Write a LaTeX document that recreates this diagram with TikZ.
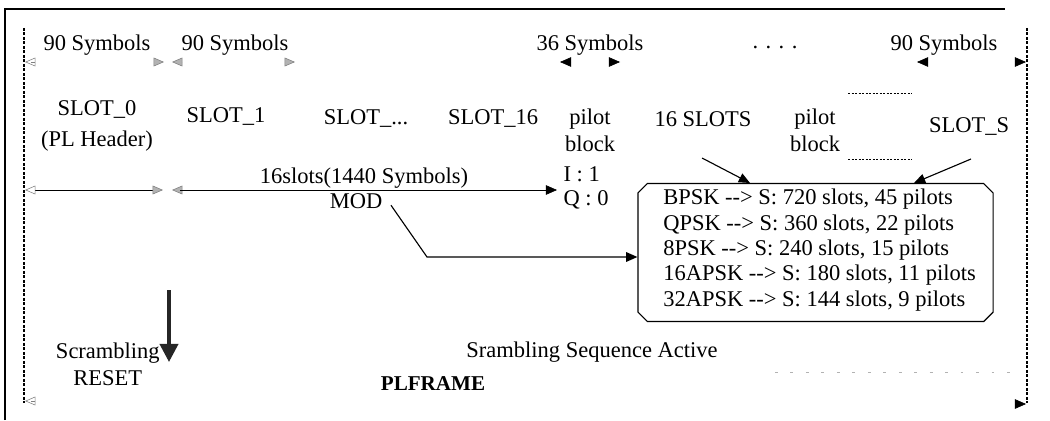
\documentclass[tikz,border=0pt]{standalone}
\usepackage{fontspec}
\setmainfont{Liberation Serif}
\usetikzlibrary{arrows.meta,shapes.misc}

\tikzset{
  lbl/.style={inner sep=0pt, font=\fontsize{16}{17}\selectfont},
  tipR/.style={-{Triangle[length=2.8mm,width=2.4mm]}},
  tipL/.style={{Triangle[length=2.8mm,width=2.4mm]}-},
  graytipR/.style={-{Triangle[length=2.6mm,width=2.2mm,fill=gray!60,color=gray]}},
  graytipL/.style={{Triangle[length=2.6mm,width=2.2mm,fill=gray!60,color=gray]}-},
  opentipL/.style={{Triangle[open,length=2.6mm,width=2.2mm,color=gray]}-},
  bound/.style={dash pattern=on 2pt off 1.2pt, line width=0.9pt},
  modbox/.style={draw, thick, chamfered rectangle, chamfered rectangle xsep=0.25cm,
    chamfered rectangle ysep=0.25cm, minimum width=8.875cm, minimum height=3.45cm}
}

\begin{document}
\begin{tikzpicture}[x=0.025cm, y=-0.025cm, font=\fontsize{16}{17}\selectfont]
\useasboundingbox (0,0) rectangle (1050,420);
% frame
\draw[line width=0.8pt] (5,420) -- (5,9) -- (1005,9);
\draw[bound] (24,28) -- (24,403);
\draw[bound] (1027,28) -- (1027,403);
\draw[gray!60, dash pattern=on 2pt off 9pt] (775,372) -- (1022,372);

% symbol spans
\node[lbl] (s90a) at (97,45) {90 Symbols};
\node[lbl] (s90b) at (235,45) {90 Symbols};
\node[lbl] (s36) at (590,45) {36 Symbols};
\node[lbl] (dots) at (775,47) {. . . .};
\node[lbl] (s90c) at (944,45) {90 Symbols};
\coordinate (a0) at (25,62);
\coordinate (a1) at (164,62);
\coordinate (a2) at (172,62);
\coordinate (a3) at (295,62);
\coordinate (a4) at (560,62);
\coordinate (a5) at (620,62);
\coordinate (a6) at (917,62);
\coordinate (a7) at (1026,62);
\draw[opentipL, draw=gray] (a0) -- ++(6,0);
\draw[graytipR, draw=gray] ([xshift=-6]a1) -- (a1);
\draw[graytipL, draw=gray] (a2) -- ++(6,0);
\draw[graytipR, draw=gray] ([xshift=-6]a3) -- (a3);
\draw[tipL] (a4) -- ++(6,0);
\draw[tipR] ([xshift=-6]a5) -- (a5);
\draw[tipL] (a6) -- ++(6,0);
\draw[tipR] ([xshift=-6]a7) -- (a7);

% slots
\node[lbl, align=center] (slot0) at (97,126) {SLOT\_0\\[5pt](PL Header)};
\node[lbl] (slot1) at (226,117) {SLOT\_1};
\node[lbl] (slotx) at (366,119) {SLOT\_...};
\node[lbl] (slot16) at (493,119) {SLOT\_16};
\node[lbl, align=center] (pilot1) at (590,130) {pilot\\[2pt]block};
\node[lbl] (slots16) at (703,119) {16 SLOTS};
\node[lbl, align=center] (pilot2) at (815,130) {pilot\\[2pt]block};
\node[lbl] (slotS) at (969,127) {SLOT\_S};
\draw[dash pattern=on 1.5pt off 1pt] (848,93) -- (912,93);
\draw[dash pattern=on 1.5pt off 1pt] (848,159) -- (912,159);

% PL header and 16 slots
\coordinate (h0) at (25,190);
\coordinate (h1) at (163,190);
\coordinate (h2) at (172,190);
\coordinate (h3) at (557,190);
\draw[opentipL] (h0) -- ([xshift=-6]h1);
\draw[graytipR, draw=gray] ([xshift=-6]h1) -- (h1);
\draw[graytipL, draw=gray] (h2) -- ++(6,0);
\draw[tipR] ([xshift=6]h2) -- (h3);
\node[lbl] (len) at (364,178) {16slots(1440 Symbols)};
\node[lbl] (mod) at (356,201) {MOD};
\node[lbl, align=left] (iq) at (586,188) {I : 1\\Q : 0};

% modulation box
\node[modbox] (box) at (815.5,252.5) {};
\node[lbl, align=left, anchor=west, font=\fontsize{16}{18}\selectfont] (tbl) at (663,250) {%
BPSK -{}-> S: 720 slots, 45 pilots\\
QPSK -{}-> S: 360 slots, 22 pilots\\
8PSK -{}-> S: 240 slots, 15 pilots\\
16APSK -{}-> S: 180 slots, 11 pilots\\
32APSK -{}-> S: 144 slots, 9 pilots};
\coordinate (b1) at (750,183);
\coordinate (b2) at (914,183);
\draw[tipR, thick] (702,158) -- (b1);
\draw[tipR, thick] (971,159) -- (b2);
\draw[tipR, thick] ([xshift=6,yshift=-3]mod.east) -- (427,257) -- (box.west |- 0,257);

% scrambling
\coordinate (r0) at (169,290);
\coordinate (r1) at (169,362);
\draw[-{Triangle[length=4.5mm,width=4.5mm]}, line width=2.6pt, black!85] (r0) -- (r1);
\node[lbl, align=center, anchor=north east] (scr) at (160,343) {Scrambling\\[2pt]RESET};
\node[lbl] (active) at (592,352) {Srambling Sequence Active};
\node[lbl, font=\fontsize{15}{17}\selectfont\bfseries] (plf) at (433,384) {PLFRAME};

% frame ends
\coordinate (e0) at (25,401);
\coordinate (e1) at (1026,404);
\draw[opentipL, draw=gray] (e0) -- ++(6,0);
\draw[tipR] ([xshift=-6]e1) -- (e1);
\end{tikzpicture}
\end{document}
